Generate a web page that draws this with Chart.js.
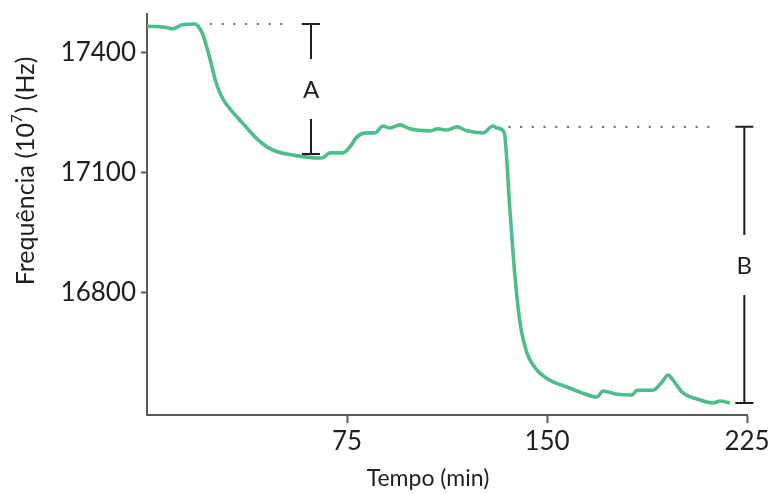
<!DOCTYPE html>
<html>
<head>
<meta charset="utf-8">
<script src="https://cdn.jsdelivr.net/npm/chart.js@4/dist/chart.umd.min.js"></script>
<style>
  html, body { margin: 0; padding: 0; background: #ffffff; }
  canvas { display: block; }
</style>
</head>
<body>
<canvas id="chart" width="774" height="494"></canvas>
<script>
// Frequency trace over time (minutes)
const timeMin = [0, 6.75, 9.75, 13.1, 18, 19.1, 21, 22.5, 24, 25.5, 27, 28.9, 31.1, 34.1, 37.5, 41.25, 45, 49.1, 54.4,
  59.25, 65.6, 68.6, 73.5,
  76.1, 78.75, 82.5, 85.5, 88.5, 91.1, 94.9, 98.6, 106.1, 109.1, 112.5, 116.25, 120, 126, 129.75, 131.25, 133.9,
  136.1, 138, 139.9, 142.5, 146.25, 151.1, 157.5, 162.4, 168.75, 171, 176.25, 181.9, 183.75, 189.75, 193.1, 195.4,
  197.25, 201, 206.25, 212.25, 214.9, 218.6];
const freqHz = [17466, 17464, 17460, 17470, 17472, 17467, 17445, 17412, 17375, 17335, 17305, 17280, 17260, 17237, 17212, 17185, 17165, 17152, 17145,
  17140, 17137, 17150, 17150,
  17165, 17190, 17200, 17200, 17217, 17212, 17220, 17210, 17205, 17210, 17207, 17215, 17205, 17200, 17217, 17212, 17202,
  17007, 16840, 16725, 16650, 16607, 16582, 16565, 16552, 16540, 16555, 16547, 16545, 16557, 16557, 16577, 16595,
  16582, 16550, 16535, 16525, 16530, 16525];

// Axis ticks
const xTicks = [75, 150, 225];
const yTicks = [16800, 17100, 17400];

// Dotted reference levels
const guideStart = [23.6, 135.5];
const guideEnd = [54.4, 214];
const guideLevel = [17472, 17215];

// Drop brackets
const bracketLabels = ['A', 'B'];
const bracketTime = [61.5, 224];
const bracketTop = [17472, 17215];
const bracketBottom = [17147, 16525];

const FONT = 'Lato, "Open Sans", "DejaVu Sans", sans-serif';
const INK = '#1f1f1f';
const AXIS = '#5a5a5a';

const guideSets = guideLevel.map((lvl, i) => ({
  data: [{ x: guideStart[i], y: lvl }, { x: guideEnd[i], y: lvl }],
  borderColor: '#777777',
  borderWidth: 2.2,
  borderDash: [2.2, 9.5],
  pointRadius: 0,
  fill: false
}));

const annotations = {
  id: 'annotations',
  afterDatasetsDraw(chart) {
    const { ctx, scales: { x, y } } = chart;
    ctx.save();
    ctx.strokeStyle = INK;
    ctx.fillStyle = INK;
    ctx.lineWidth = 2;
    ctx.textAlign = 'center';
    ctx.textBaseline = 'middle';
    ctx.font = '24px ' + FONT;
    bracketLabels.forEach((lab, i) => {
      const px = x.getPixelForValue(bracketTime[i]);
      const top = y.getPixelForValue(bracketTop[i]);
      const bot = y.getPixelForValue(bracketBottom[i]);
      const mid = (top + bot) / 2;
      ctx.beginPath();
      ctx.moveTo(px - 9, top); ctx.lineTo(px + 9, top);
      ctx.moveTo(px, top); ctx.lineTo(px, mid - 30);
      ctx.moveTo(px, mid + 30); ctx.lineTo(px, bot);
      ctx.moveTo(px - 9, bot); ctx.lineTo(px + 9, bot);
      ctx.stroke();
      ctx.fillText(lab, px, mid + 1);
    });

    // x-axis title
    ctx.font = '23px ' + FONT;
    ctx.fillText('Tempo (min)', 428, 479);

    // y-axis title with superscript exponent
    ctx.save();
    ctx.translate(26, 171);
    ctx.rotate(-Math.PI / 2);
    const p1 = 'Frequência (10', p2 = '7', p3 = ') (Hz)';
    ctx.font = '25px ' + FONT;
    const w1 = ctx.measureText(p1).width;
    const w3 = ctx.measureText(p3).width;
    ctx.font = '15px ' + FONT;
    const w2 = ctx.measureText(p2).width;
    let cx = -(w1 + w2 + w3 + 1) / 2;
    ctx.textAlign = 'left';
    ctx.font = '25px ' + FONT;
    ctx.fillText(p1, cx, 0);
    cx += w1;
    ctx.font = '15px ' + FONT;
    ctx.fillText(p2, cx, -9);
    cx += w2 + 1;
    ctx.font = '25px ' + FONT;
    ctx.fillText(p3, cx, 0);
    ctx.restore();

    ctx.restore();
  }
};

const noEdgePadding = s => { s.paddingTop = 0; s.paddingBottom = 0; s.paddingLeft = 0; s.paddingRight = 0; };

new Chart(document.getElementById('chart').getContext('2d'), {
  type: 'line',
  data: {
    datasets: [
      {
        data: timeMin.map((t, i) => ({ x: t, y: freqHz[i] })),
        borderColor: '#4dbd8b',
        borderWidth: 3.6,
        pointRadius: 0,
        cubicInterpolationMode: 'monotone',
        fill: false
      },
      ...guideSets
    ]
  },
  options: {
    responsive: false,
    animation: false,
    devicePixelRatio: 1,
    layout: { padding: { top: 14, right: 27, left: 0, bottom: 0 } },
    plugins: { legend: { display: false }, tooltip: { enabled: false } },
    scales: {
      x: {
        type: 'linear',
        min: 0,
        max: 225,
        afterBuildTicks: s => { s.ticks = xTicks.map(v => ({ value: v })); },
        afterFit: s => { s.height = 79; noEdgePadding(s); },
        grid: { drawOnChartArea: false, drawTicks: true, tickLength: 8, tickColor: AXIS, tickWidth: 2 },
        border: { display: true, color: AXIS, width: 2 },
        ticks: { font: { family: FONT, size: 26 }, color: INK, padding: 3, maxRotation: 0, autoSkip: false,
          callback: v => String(v) }
      },
      y: {
        type: 'linear',
        min: 16495,
        max: 17497,
        afterBuildTicks: s => { s.ticks = yTicks.map(v => ({ value: v })); },
        afterFit: s => { s.width = 147; noEdgePadding(s); },
        grid: { drawOnChartArea: false, drawTicks: true, tickLength: 6, tickColor: AXIS, tickWidth: 2 },
        border: { display: true, color: AXIS, width: 2 },
        ticks: { font: { family: FONT, size: 26 }, color: INK, padding: 5, autoSkip: false,
          callback: v => String(v) }
      }
    }
  },
  plugins: [annotations]
});
</script>
</body>
</html>
